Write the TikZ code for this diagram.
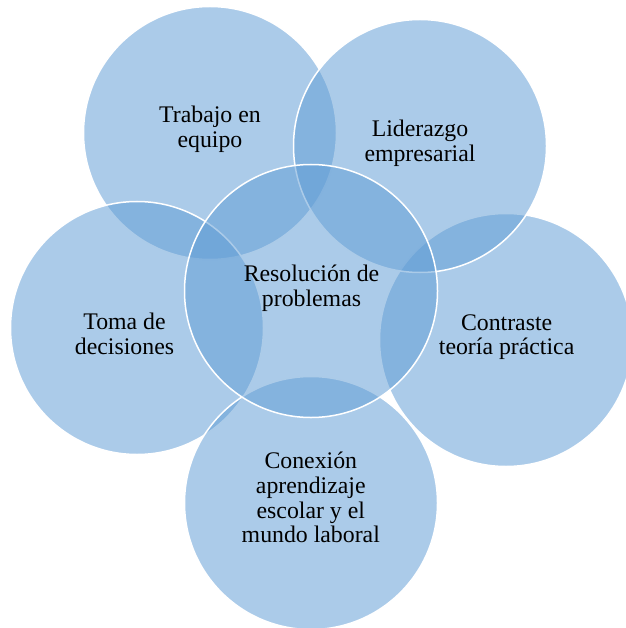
\documentclass[tikz,border=0pt]{standalone}
\usepackage{fontspec}
\setmainfont{Liberation Serif}
\definecolor{venn}{RGB}{97,157,213}
\begin{document}
\begin{tikzpicture}[x=1pt,y=-1pt,
  venncircle/.style={circle, minimum size=253pt, inner sep=0pt, outer sep=0pt,
    fill=venn, fill opacity=0.53, draw=white, draw opacity=1, line width=1.5pt},
  lbl/.style={align=center, anchor=base, inner sep=0pt, text=black,
    font=\fontsize{23.8}{24.6}\selectfont}]
\useasboundingbox (0,0) rectangle (625,628);
\node[venncircle] (trabajo) at (210,133) {};
\node[venncircle] (contraste) at (506,340) {};
\node[venncircle] (liderazgo) at (420,146) {};
\node[venncircle] (toma) at (137,328) {};
\node[venncircle] (conexion) at (311,503) {};
\node[venncircle] (centro) at (311,291) {};
\node[lbl] (ltrabajo) at (210,147.5) {Trabajo en\\equipo};
\node[lbl] (lliderazgo) at (420,161.4) {Liderazgo\\empresarial};
\node[lbl] (lcentro) at (311.5,306) {Resolución de\\problemas};
\node[lbl] (ltoma) at (124.5,354) {Toma de\\decisiones};
\node[lbl] (lcontraste) at (506.6,354.7) {Contraste\\teoría práctica};
\node[lbl] (lconexion) at (310.8,542.7) {Conexión\\aprendizaje\\escolar y el\\mundo laboral};
\end{tikzpicture}
\end{document}
